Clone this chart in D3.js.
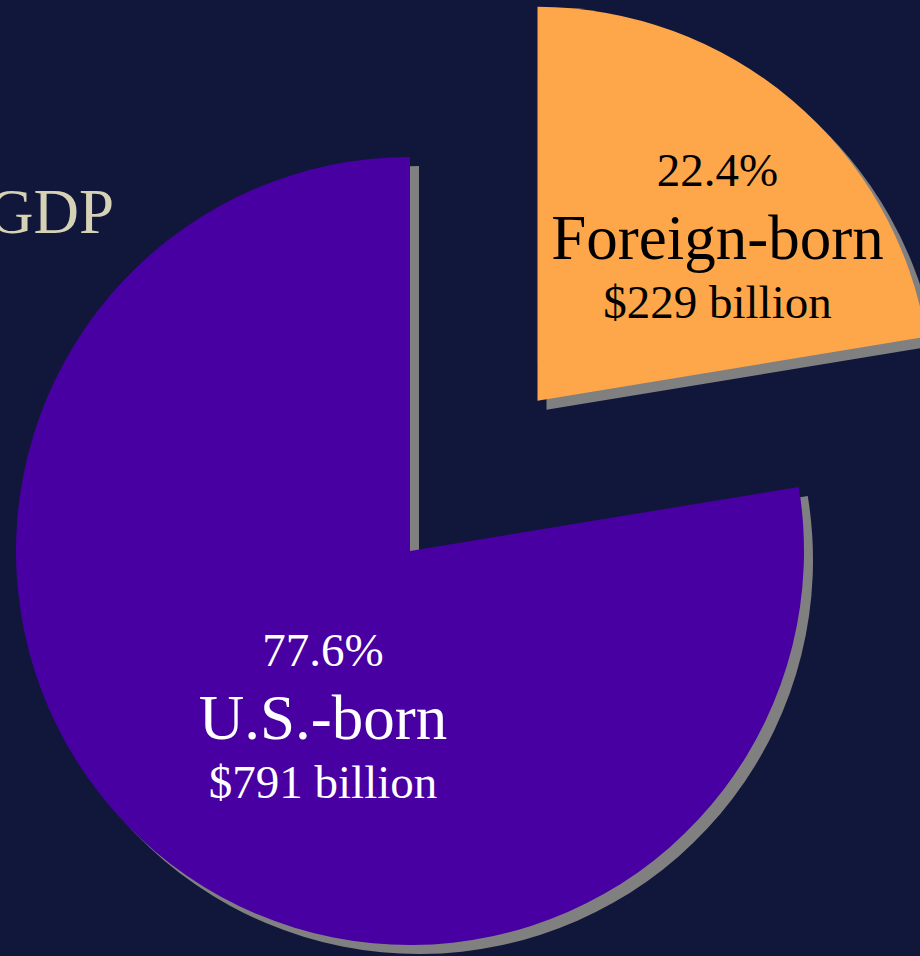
<!DOCTYPE html>
<html>
<head>
<meta charset="utf-8">
<script src="https://cdn.jsdelivr.net/npm/d3@7"></script>
<style>
  html, body { margin: 0; padding: 0; background: #11173a; overflow: hidden; }
  svg { display: block; }
</style>
</head>
<body>
<svg id="chart" width="920" height="956"></svg>
<script>
// ---- data ----
const categories = ["Foreign-born", "U.S.-born"];
const shares = [22.4, 77.6];               // percent of total
const billions = [229, 791];               // $ billion
const titleText = "GDP";

// ---- styling ----
const W = 920, H = 956;
const bg = "#11173a";
const sliceColors = ["#fea64a", "#4800a2"];
const labelColors = ["#000000", "#ffffff"];
const explode = [197, 0];
const shadowOffset = 9;
const cx = 410, cy = 551, R = 394;
const fontFamily = "'Liberation Serif', 'Times New Roman', Times, serif";
// label block offsets from each slice's (exploded) center
const labelOffsets = [[180, -142], [-87, 188]];

const svg = d3.select("#chart");
svg.append("rect").attr("width", W).attr("height", H).attr("fill", bg);

svg.append("text")
  .attr("x", 114).attr("y", 233)
  .attr("text-anchor", "end")
  .attr("font-family", fontFamily)
  .attr("font-size", 63)
  .attr("fill", "#d5d2b5")
  .text(titleText);

const pie = d3.pie().sort(null).value(d => d.share);
const data = categories.map((c, i) => ({ name: c, share: shares[i], bil: billions[i], i }));
const arcs = pie(data);
const arc = d3.arc().innerRadius(0).outerRadius(R);

function sliceCenter(a) {
  const mid = (a.startAngle + a.endAngle) / 2;
  const e = explode[a.data.i];
  return [cx + e * Math.sin(mid), cy - e * Math.cos(mid)];
}

// shadows
svg.append("g").selectAll("path.shadow")
  .data(arcs).join("path")
  .attr("class", "shadow")
  .attr("d", arc)
  .attr("fill", "#808080")
  .attr("transform", d => {
    const [x, y] = sliceCenter(d);
    return `translate(${x + shadowOffset},${y + shadowOffset})`;
  });

// slices
svg.append("g").selectAll("path.slice")
  .data(arcs).join("path")
  .attr("class", "slice")
  .attr("d", arc)
  .attr("fill", d => sliceColors[d.data.i])
  .attr("transform", d => {
    const [x, y] = sliceCenter(d);
    return `translate(${x},${y})`;
  });

// labels
const lg = svg.append("g").selectAll("g.lab")
  .data(arcs).join("g")
  .attr("class", "lab")
  .attr("transform", d => {
    const [x, y] = sliceCenter(d);
    const o = labelOffsets[d.data.i];
    return `translate(${x + o[0]},${y + o[1]})`;
  })
  .attr("font-family", fontFamily)
  .attr("text-anchor", "middle")
  .attr("fill", d => labelColors[d.data.i]);

lg.append("text").attr("y", -73).attr("font-size", 47)
  .text(d => d.data.share.toFixed(1) + "%");
lg.append("text").attr("y", 0).attr("font-size", 63)
  .text(d => d.data.name);
lg.append("text").attr("y", 59).attr("font-size", 47)
  .text(d => "$" + d.data.bil + " billion");
</script>
</body>
</html>
